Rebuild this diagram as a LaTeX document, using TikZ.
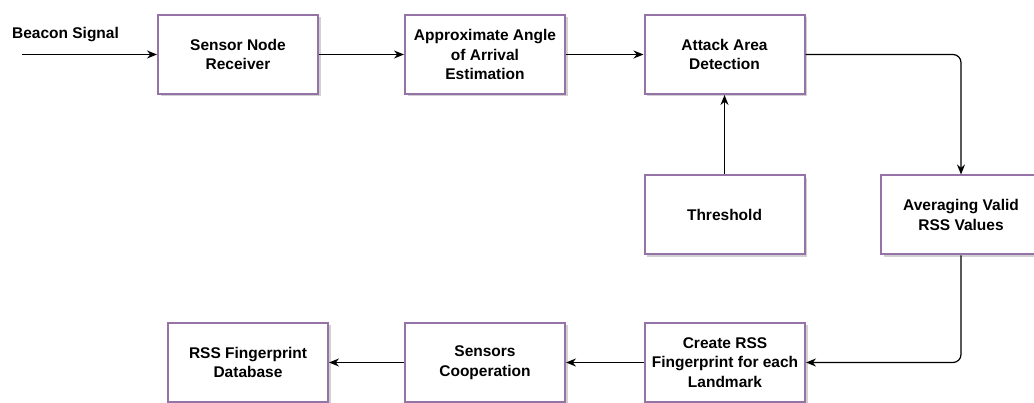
\documentclass[tikz,border=0pt]{standalone}
\usepackage{fontspec}
\setmainfont{Liberation Sans}
\usepackage{xcolor}
\usepackage{tikz}
\usetikzlibrary{arrows.meta}
\usetikzlibrary{shadows, positioning}
\definecolor{viola}{HTML}{9673A6}

\tikzset{
  blocco/.style={draw=viola, line width=2pt, fill=white, minimum width=160pt,
    minimum height=79pt, align=center, inner sep=2pt,
    font=\fontsize{15.5}{19.5}\selectfont\bfseries,
    drop shadow={shadow xshift=2.5pt, shadow yshift=-2.5pt, opacity=0.3, fill=black!60}},
  freccia/.style={line width=1.2pt, -{Stealth[length=10pt, width=8pt]}}
}

\begin{document}
\begin{tikzpicture}[x=1pt, y=-1pt]
  \useasboundingbox (0,0) rectangle (1034,403);

  % Blocchi in alto
  \node[blocco] (ricevitore) at (238,54.5) {Sensor Node\\Receiver};
  \node[blocco] (angolo) at (485,54.5) {Approximate Angle\\of Arrival\\Estimation};
  \node[blocco] (attacco) at (724.5,54.5) {Attack Area\\Detection};

  % Blocchi in mezzo
  \node[blocco] (soglia) at (724.5,215) {Threshold};
  \node[blocco] (media) at (961,215) {Averaging Valid\\RSS Values};

  % Blocchi in basso
  \node[blocco] (impronta) at (725,362.5) {Create RSS\\Fingerprint for each\\Landmark};
  \node[blocco] (cooperazione) at (485,362.5) {Sensors\\Cooperation};
  \node[blocco] (database) at (248,362.5) {RSS Fingerprint\\Database};

  % Ingresso
  \coordinate (ingresso) at (22,54.5);
  \node[font=\fontsize{15.5}{19.5}\selectfont\bfseries] (segnale) at (65.5,35) {Beacon Signal};

  % Frecce
  \draw[freccia] (ingresso) -- (ricevitore.west);
  \draw[freccia] (ricevitore.east) -- (angolo.west);
  \draw[freccia] (angolo.east) -- (attacco.west);
  \draw[freccia] (soglia.north) -- (attacco.south);
  \draw[freccia, rounded corners=8pt] (attacco.east) -| (media.north);
  \draw[freccia, rounded corners=8pt] (media.south) |- (impronta.east);
  \draw[freccia] (impronta.west) -- (cooperazione.east);
  \draw[freccia] (cooperazione.west) -- (database.east);
\end{tikzpicture}
\end{document}
